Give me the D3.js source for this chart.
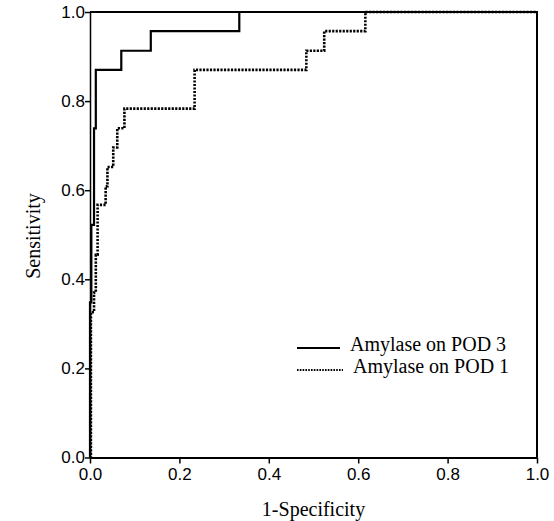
<!DOCTYPE html>
<html>
<head>
<meta charset="utf-8">
<script src="https://cdn.jsdelivr.net/npm/d3@7"></script>
<style>
body { margin: 0; background: #fff; }
svg { display: block; }
</style>
</head>
<body>
<script>
(function(){
'use strict';

// ROC points (1-specificity, sensitivity), drawn as steps
var pod3Fpr = [0, 0, 0.003, 0.009, 0.013, 0.070, 0.136, 0.334, 1.0];
var pod3Tpr = [0, 0.348, 0.522, 0.739, 0.870, 0.913, 0.957, 1.0, 1.0];

var pod1Fpr = [0, 0.002, 0.009, 0.013, 0.017, 0.035, 0.039, 0.052, 0.061, 0.077, 0.234, 0.484, 0.524, 0.616, 1.0];
var pod1Tpr = [0, 0.326, 0.370, 0.455, 0.567, 0.609, 0.652, 0.696, 0.739, 0.783, 0.870, 0.913, 0.957, 1.0, 1.0];

var tickValues = [0, 0.2, 0.4, 0.6, 0.8, 1.0];
var legendLabels = ['Amylase on POD 3', 'Amylase on POD 1'];

var width = 554;
var height = 521;
var left = 90, right = 537, top = 12, bottom = 457.5;

var svg = d3.select('body').append('svg')
			.attr('width', width)
			.attr('height', height);

var xScale = d3.scaleLinear().domain([0, 1]).range([left, right]);
var yScale = d3.scaleLinear().domain([0, 1]).range([bottom, top]);

// frame top and right
svg.append('path')
	.attr('d', 'M' + left + ',' + top + 'H' + right + 'V' + bottom)
	.attr('fill', 'none')
	.attr('stroke', '#000')
	.attr('stroke-width', 2);

var xAxis = svg.append('g')
	.attr('transform', 'translate(0,' + bottom + ')')
	.call(d3.axisBottom(xScale).tickValues(tickValues).tickFormat(d3.format('.1f')).tickSize(6).tickSizeOuter(0));
xAxis.select('.domain').attr('stroke-width', 2);
xAxis.selectAll('.tick line').attr('stroke-width', 1.5);
xAxis.selectAll('text')
	.attr('font-family', 'Liberation Sans, Arial, sans-serif')
	.attr('font-size', 17)
	.attr('fill', '#000')
	.attr('dy', '0.74em')
	.attr('y', 10);

var yAxis = svg.append('g')
	.attr('transform', 'translate(' + left + ',0)')
	.call(d3.axisLeft(yScale).tickValues(tickValues).tickFormat(d3.format('.1f')).tickSize(5).tickSizeOuter(0));
yAxis.select('.domain').attr('stroke-width', 1.5);
yAxis.selectAll('.tick line').attr('stroke-width', 1.5);
yAxis.selectAll('text')
	.attr('font-family', 'Liberation Sans, Arial, sans-serif')
	.attr('font-size', 17)
	.attr('fill', '#000')
	.attr('x', -5);

var line = d3.line()
	.x(function(d){ return xScale(d[0]); })
	.y(function(d){ return yScale(d[1]); })
	.curve(d3.curveStepAfter);

var pod1 = d3.zip(pod1Fpr, pod1Tpr);
var pod3 = d3.zip(pod3Fpr, pod3Tpr);

svg.append('path')
	.datum(pod1)
	.attr('d', line)
	.attr('fill', 'none')
	.attr('stroke', '#000')
	.attr('stroke-width', 2.6)
	.attr('stroke-dasharray', '2.2,1.3');

svg.append('path')
	.datum(pod3)
	.attr('d', line)
	.attr('fill', 'none')
	.attr('stroke', '#000')
	.attr('stroke-width', 2.2);

// axis titles
svg.append('text')
	.attr('x', (left + right) / 2)
	.attr('y', 516)
	.attr('text-anchor', 'middle')
	.attr('font-family', 'Liberation Serif, Times New Roman, serif')
	.attr('font-size', 20)
	.text('1-Specificity');

svg.append('text')
	.attr('transform', 'translate(40,236) rotate(-90)')
	.attr('text-anchor', 'middle')
	.attr('font-family', 'Liberation Serif, Times New Roman, serif')
	.attr('font-size', 20)
	.text('Sensitivity');

// legend
var legend = svg.selectAll('.legend')
	.data(legendLabels)
	.enter()
	.append('g')
	.attr('class', 'legend')
	.attr('transform', function(d, i){ return 'translate(297,' + (348 + i * 22) + ')'; });

legend.append('line')
	.attr('x1', 0)
	.attr('x2', function(d, i){ return i === 0 ? 43 : 46; })
	.attr('stroke', '#000')
	.attr('stroke-width', function(d, i){ return i === 0 ? 2 : 1.8; })
	.attr('stroke-dasharray', function(d, i){ return i === 0 ? null : '1.6,1.2'; });

legend.append('text')
	.attr('x', function(d, i){ return i === 0 ? 53 : 56; })
	.attr('y', 3)
	.attr('font-family', 'Liberation Serif, Times New Roman, serif')
	.attr('font-size', 20)
	.text(function(d){ return d; });

})();
</script>
</body>
</html>
